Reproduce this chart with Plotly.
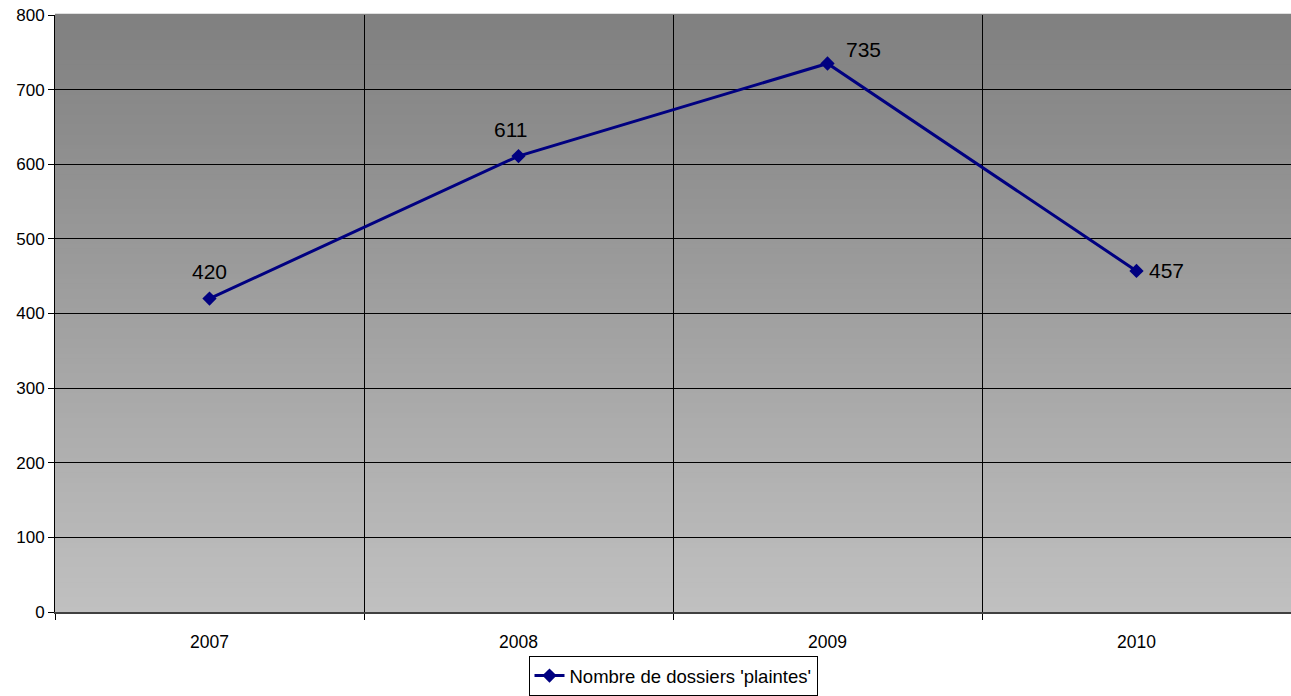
import plotly.graph_objects as go

years = ["2007", "2008", "2009", "2010"]
values = [420, 611, 735, 457]
series_name = "Nombre de dossiers 'plaintes'"
label_shift_x = [0, -8, 36, 30]
label_shift_y = [27, 27, 14, 0]

fig = go.Figure()
fig.add_trace(go.Scatter(
    x=years, y=values, mode="lines+markers", name=series_name,
    line=dict(color="#000080", width=3),
    marker=dict(symbol="diamond", size=11, color="#000080"),
    cliponaxis=False,
))

annotations = [
    dict(x=i, y=v, xref="x", yref="y", text=str(v), showarrow=False,
         xanchor="center", yanchor="middle", xshift=dx, yshift=dy,
         font=dict(family="Liberation Sans, Arial", size=21, color="black"))
    for i, (v, dx, dy) in enumerate(zip(values, label_shift_x, label_shift_y))
]

# gradient background
n = 120
top = (128, 128, 128)
bot = (192, 192, 192)
shapes = []
for i in range(n):
    t = i / (n - 1)
    c = tuple(round(bot[k] + (top[k] - bot[k]) * t) for k in range(3))
    shapes.append(dict(type="rect", xref="x domain", yref="y domain",
                       x0=0, x1=1, y0=i / n, y1=(i + 1) / n + 0.002,
                       fillcolor="rgb(%d,%d,%d)" % c, line=dict(width=0), layer="below"))

fig.update_layout(
    width=1291, height=696,
    margin=dict(l=55, r=0, t=15, b=84),
    paper_bgcolor="white", plot_bgcolor="rgba(0,0,0,0)",
    font=dict(family="Liberation Sans, Arial", size=17, color="black"),
    shapes=shapes,
    annotations=annotations,
    showlegend=True,
    legend=dict(orientation="h", x=0.5, xanchor="center", y=-0.141, yanchor="bottom",
                bordercolor="black", borderwidth=1, bgcolor="white",
                font=dict(size=18.5), itemwidth=30, tracegroupgap=0),
    xaxis=dict(type="category", tickson="boundaries", showgrid=True, gridcolor="black",
               gridwidth=1, ticks="outside", ticklen=6, tickcolor="black",
               showline=True, linecolor="#404040", linewidth=2, zeroline=False,
               range=[-0.5, 3.5], tickfont=dict(size=17.5), ticklabelstandoff=13),
    yaxis=dict(range=[0, 800], dtick=100, showgrid=True, gridcolor="black", gridwidth=1,
               ticks="outside", ticklen=6, tickcolor="black", showline=True,
               linecolor="black", linewidth=1, zeroline=False, tickfont=dict(size=17)),
)

fig.write_html("out.html")
